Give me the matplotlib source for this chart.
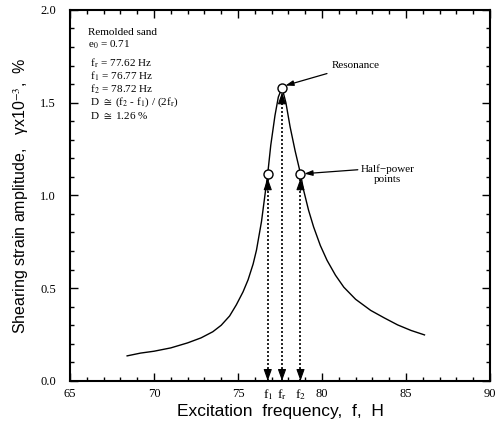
import matplotlib
matplotlib.use("Agg")
import matplotlib.pyplot as plt
from matplotlib.ticker import MultipleLocator

# ---- data ----
freq = [68.4, 69.2, 70.0, 71.0, 72.0, 72.8, 73.5, 74.0, 74.5, 74.9, 75.3, 75.6, 75.9, 76.1,
        76.4, 76.77, 76.95, 77.2, 77.4, 77.62, 77.85, 78.1, 78.4, 78.72, 78.9, 79.2, 79.5,
        79.9, 80.3, 80.8, 81.3, 82.0, 82.9, 83.7, 84.5, 85.3, 86.1]
amp = [0.135, 0.150, 0.160, 0.178, 0.205, 0.232, 0.265, 0.300, 0.350, 0.410, 0.480, 0.545,
       0.630, 0.705, 0.860, 1.117, 1.270, 1.430, 1.530, 1.580, 1.500, 1.370, 1.240, 1.117,
       1.030, 0.920, 0.830, 0.730, 0.650, 0.570, 0.505, 0.440, 0.380, 0.340, 0.302, 0.272,
       0.248]
key_names = ["f$_1$", "f$_\\mathrm{r}$", "f$_2$"]
key_freq = [76.77, 77.62, 78.72]
key_amp = [1.117, 1.580, 1.117]

x_ticks = [65, 70, 75, 80, 85, 90]
y_ticks = [0.0, 0.5, 1.0, 1.5, 2.0]

info_lines = ["Remolded sand",
              "e$_0$ = 0.71",
              " f$_\\mathrm{r}$ = 77.62 Hz",
              " f$_1$ = 76.77 Hz",
              " f$_2$ = 78.72 Hz",
              " D $\\cong$ (f$_2$ - f$_1$) / (2f$_\\mathrm{r}$)",
              " D $\\cong$ 1.26 %"]

plt.rcParams["mathtext.fontset"] = "stix"
serif = ["Liberation Serif", "DejaVu Serif"]
sans = "Liberation Sans"

fig = plt.figure(figsize=(5.0, 4.28), dpi=100)
ax = fig.add_axes([0.14, 0.11, 0.84, 0.867])

ax.plot(freq, amp, color="black", lw=1.0)

# dotted double-headed arrows from the key points to the axis
for fx, fy in zip(key_freq, key_amp):
    ax.plot([fx, fx], [0.0, fy - 0.02], color="black", lw=1.2, ls=(0, (1.2, 1.2)))
    hp = dict(arrowstyle="-|>,head_length=0.7,head_width=0.25", color="black",
              lw=0.8, shrinkA=0, shrinkB=0)
    ax.annotate("", xy=(fx, fy - 0.025), xytext=(fx, fy - 0.09), arrowprops=hp)
    ax.annotate("", xy=(fx, 0.0), xytext=(fx, 0.065), arrowprops=hp)

ax.plot(key_freq, key_amp, ls="none", marker="o", ms=6.5, mfc="white", mec="black", mew=1.0,
        zorder=5)

# labels of the key frequencies under the axis
for name, fx in zip(key_names, key_freq):
    ax.text(fx, -0.035, name, ha="center", va="top", fontsize=9.5, family=serif)

# info block
line_y = [1.88, 1.81, 1.71, 1.64, 1.57, 1.50, 1.43]
for t, yy in zip(info_lines, line_y):
    ax.text(66.05, yy, t, ha="left", va="center", fontsize=8, family=serif)

# Resonance annotation
ax.annotate("Resonance", xy=(77.82, 1.592), xytext=(80.6, 1.70), ha="left", va="center",
            fontsize=8, family=serif,
            arrowprops=dict(arrowstyle="-|>,head_length=0.6,head_width=0.2", color="black",
                            lw=0.9, shrinkA=2, shrinkB=0,
                            relpos=(0.15, 0.0)))

# Half-power annotation
ax.annotate("Half\u2212power\npoints", xy=(78.95, 1.117), xytext=(83.9, 1.115), ha="center",
            va="center", fontsize=8, family=serif, linespacing=1.25,
            arrowprops=dict(arrowstyle="-|>,head_length=0.6,head_width=0.2", color="black",
                            lw=0.9, shrinkA=0, shrinkB=0, relpos=(0.0, 0.72)))

ax.set_xlim(65, 90)
ax.set_ylim(0, 2.0)
ax.set_xticks(x_ticks)
ax.set_yticks(y_ticks)
ax.set_xticklabels([str(v) for v in x_ticks], family=serif, fontsize=9)
ax.set_yticklabels(["%.1f" % v for v in y_ticks], family=serif, fontsize=9)
ax.xaxis.set_minor_locator(MultipleLocator(1))
ax.yaxis.set_minor_locator(MultipleLocator(0.1))
ax.tick_params(which="both", direction="in", top=True, right=True, width=1.0)
ax.tick_params(which="major", length=6)
ax.tick_params(which="minor", length=3)
ax.tick_params(axis="y", which="major", pad=10)
ax.tick_params(axis="x", which="major", pad=5)
for s in ax.spines.values():
    s.set_linewidth(1.5)

ax.set_xlabel("Excitation  frequency,  f,  H", family=sans, fontsize=12.5, labelpad=3)
ax.set_ylabel("Shearing strain amplitude,   \u03b3x10$^{-3}$,  %", family=sans, fontsize=11.5,
              labelpad=7)

fig.savefig("out.png", dpi=100)
